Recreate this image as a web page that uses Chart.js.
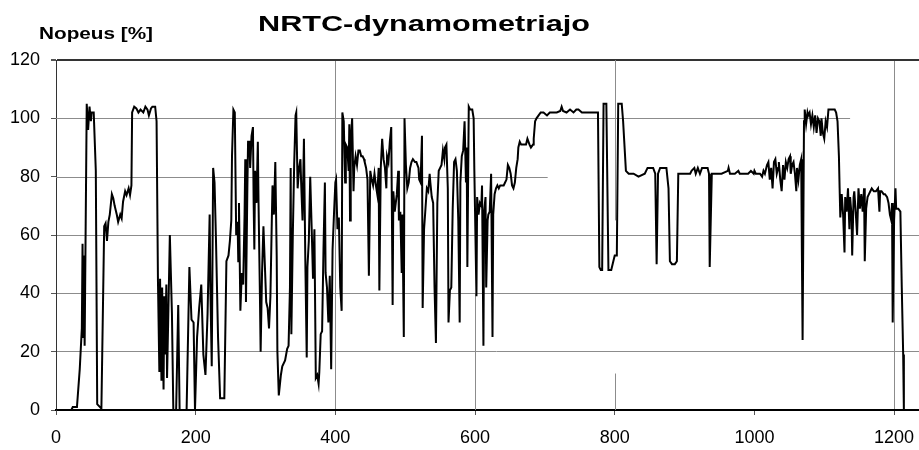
<!DOCTYPE html>
<html>
<head>
<meta charset="utf-8">
<script src="https://cdn.jsdelivr.net/npm/chart.js@4"></script>
<style>
  html, body { margin: 0; padding: 0; background: #fff; overflow: hidden; }
  canvas { display: block; }
</style>
</head>
<body>
<canvas id="nrtcChart" width="936" height="450"></canvas>
<script>
// NRTC cycle, speed [%]
const seconds = [0, 22, 24, 30, 34, 37, 38, 39, 40, 41, 44, 46, 48, 50, 51, 54, 57, 59, 63, 65,
  69, 71, 73, 75, 77, 80, 82, 84, 87, 89, 92, 94, 96, 99, 101, 104, 106, 108, 109, 112,
  115, 118, 121, 125, 128, 131, 133, 136, 138, 142, 144, 146, 148, 149, 151, 152, 154, 155, 156, 158,
  159, 161, 163, 166, 168, 172, 175, 177, 187, 191, 194, 197, 199, 202, 205, 208, 211, 214, 217, 220,
  221, 223, 225, 227, 229, 232, 235, 241, 244, 247, 249, 251, 252, 254, 256, 258, 260, 261, 262, 264,
  266, 268, 270, 271, 272, 274, 275, 277, 278, 280, 282, 283, 284, 285, 287, 289, 290, 292, 293, 295,
  297, 299, 301, 303, 305, 307, 309, 310, 312, 314, 316, 317, 319, 322, 324, 328, 331, 333, 335, 336,
  337, 339, 341, 343, 344, 346, 348, 350, 351, 353, 355, 357, 359, 360, 362, 364, 366, 368, 370, 372,
  374, 376, 377, 379, 381, 383, 385, 386, 388, 390, 392, 394, 396, 398, 400, 401, 403, 405, 407, 409,
  410, 412, 414, 415, 417, 419, 420, 421, 422, 424, 426, 427, 429, 431, 433, 435, 437, 439, 441, 442,
  444, 446, 448, 450, 452, 454, 456, 458, 460, 462, 463, 465, 467, 469, 471, 473, 474, 476, 478, 480,
  482, 483, 485, 488, 490, 491, 493, 495, 496, 498, 499, 501, 503, 505, 507, 509, 511, 514, 516, 519,
  520, 522, 524, 525, 527, 529, 531, 533, 535, 536, 538, 540, 542, 544, 546, 548, 550, 552, 554, 556,
  557, 559, 561, 562, 564, 566, 568, 570, 572, 574, 576, 578, 579, 581, 583, 585, 587, 588, 589, 591,
  593, 596, 598, 599, 600, 602, 603, 605, 607, 609, 610, 612, 613, 615, 616, 618, 619, 621, 623, 625,
  626, 628, 630, 632, 634, 636, 638, 641, 643, 645, 647, 649, 651, 653, 655, 657, 659, 661, 662, 664,
  666, 669, 673, 675, 678, 680, 683, 684, 686, 688, 691, 694, 698, 703, 707, 712, 717, 722, 724, 726,
  731, 736, 741, 745, 748, 753, 762, 769, 776, 778, 780, 782, 784, 788, 791, 795, 798, 800, 803, 805,
  810, 812, 816, 820, 827, 834, 843, 847, 855, 858, 860, 862, 865, 874, 877, 879, 882, 886, 889, 891,
  901, 908, 910, 914, 916, 919, 922, 925, 933, 935, 936, 939, 944, 953, 962, 963, 965, 972, 977, 979,
  991, 995, 999, 1000, 1002, 1008, 1011, 1013, 1015, 1018, 1020, 1022, 1024, 1026, 1028, 1030, 1032, 1034, 1035, 1037,
  1039, 1041, 1043, 1045, 1047, 1049, 1051, 1052, 1054, 1056, 1058, 1060, 1061, 1063, 1065, 1067, 1068, 1069, 1071, 1072,
  1074, 1076, 1077, 1079, 1081, 1083, 1085, 1087, 1089, 1091, 1093, 1095, 1096, 1098, 1100, 1102, 1104, 1106, 1109, 1112,
  1115, 1117, 1119, 1121, 1122, 1123, 1125, 1127, 1129, 1130, 1132, 1134, 1136, 1137, 1139, 1140, 1142, 1143, 1145, 1147,
  1149, 1151, 1153, 1155, 1157, 1158, 1160, 1162, 1164, 1166, 1168, 1171, 1174, 1177, 1179, 1180, 1182, 1185, 1187, 1190,
  1192, 1194, 1196, 1197, 1198, 1200, 1202, 1203, 1206, 1209, 1211, 1213, 1214, 1238];

const speed = [0, 0, 1, 1, 14, 28, 57, 25, 53, 22, 105, 96, 104, 99, 102, 102, 82, 2, 1, 0.5,
  63, 64, 58, 64.5, 67, 74, 72.6, 70, 67, 64.5, 67, 65.7, 71.4, 75, 73.7, 76, 73.7, 77, 102, 104,
  103.4, 102, 103, 102, 104, 103, 101, 103.4, 104, 104, 99, 44, 13, 45, 10, 42, 7, 39, 19, 43,
  11, 35, 60, 33, 0, 0, 36, 0, 0, 49, 31, 30, 0, 25, 35, 43, 19, 12, 33, 67,
  42, 15, 83, 78, 59, 25, 4, 4, 51, 53, 58, 65, 87, 103, 102, 60, 64.5, 51, 71, 34,
  47, 43, 67, 86, 37, 76, 92, 92, 83, 94, 97, 71, 55, 82, 71, 92, 71, 39, 20, 47,
  63, 50, 37, 35, 28, 39, 65, 77, 67, 85, 53, 20, 5, 12, 15, 17, 21, 22, 42, 83,
  26, 59, 84, 101, 102, 76, 83, 86, 78, 65, 93, 51, 18, 49, 58, 80, 63, 45, 62, 11,
  12, 9, 13, 26, 27, 55, 78, 47, 42, 30, 46, 14, 55, 67, 78, 79, 62, 66, 42, 34,
  102, 99, 78, 91, 90, 82, 98, 65, 92, 100, 75, 83, 87, 84, 89, 89, 87, 87, 86, 85,
  83, 79, 46, 82, 79, 77, 81, 77, 74, 83, 41, 83, 93, 86, 83, 76, 87, 85, 92, 97,
  36, 75, 68, 74, 82, 65, 68, 47, 67, 25, 100, 84, 76, 78, 83, 85, 86, 85, 85, 83,
  79, 78, 94, 35, 62, 69, 76, 75, 81, 78, 73, 71, 42, 23, 71, 82, 83, 84, 89, 86,
  90, 91, 76, 30, 41, 42, 69, 85, 86, 82, 65, 30, 78, 87, 89, 99, 78, 90, 49, 104,
  103, 103, 100, 82, 68, 39, 73, 67, 71, 70, 77, 22, 68, 73, 42, 65, 67, 68, 81, 25,
  67, 74, 76, 77, 76, 77, 77, 77, 78, 79, 84, 83, 81, 77, 76, 78, 83, 86, 90, 92,
  91, 91, 91, 93, 91, 90, 91, 93, 99, 100, 101, 102, 102, 101, 102, 102, 102, 102.5, 104, 102.5,
  102, 103, 102, 103, 103, 102, 102, 102, 102, 49, 48, 48, 105, 105, 48, 48, 51, 53, 53, 105,
  105, 99, 82, 81, 81, 80, 81, 83, 83, 81, 50, 81, 83, 83, 76, 51, 50, 50, 51, 81,
  81, 81, 82, 83, 81, 83, 81, 83, 83, 81, 49, 81, 81, 81, 82, 83, 81, 81, 82, 81,
  81, 82, 81, 82, 81, 81, 80, 82, 81, 84, 85, 79, 83, 76, 85, 86, 81, 83, 85, 79,
  75, 84, 79, 85, 83, 86, 87, 81, 84, 85, 81, 75, 83, 79, 84, 86, 53, 24, 99, 103,
  98, 102, 101, 102, 98, 101, 97, 101, 95, 100, 99, 94, 100, 95, 93, 99, 97, 103, 103, 103,
  103, 102, 99, 87, 76, 66, 74, 67, 54, 73, 68, 76, 62, 73, 67, 53, 73, 75, 68, 60,
  76, 69, 74, 68, 76, 51, 69, 73, 74, 75, 76, 75, 75, 76, 68, 75, 75, 74, 74, 73,
  71, 67, 65, 71, 30, 65, 76, 69, 69, 68, 42, 19, 0, 0];

const xTicks = [0, 200, 400, 600, 800, 1000, 1200];
const yTicks = [0, 20, 40, 60, 80, 100, 120];

const chartTitle = 'NRTC-dynamometriajo';
const yAxisTitle = 'Nopeus [%]';

// text in the source image is drawn wide, so stretch it to the measured width
function wideText(ctx, text, x, y, width) {
  const natural = ctx.measureText(text).width;
  ctx.save();
  ctx.translate(x, y);
  ctx.scale(width / natural, 1);
  ctx.fillText(text, 0, 0);
  ctx.restore();
}

// partial gridlines and the free-standing titles, as in the original picture
const extras = {
  id: 'extras',
  beforeDatasetsDraw(chart) {
    const { ctx, scales: { x, y } } = chart;
    const px = v => Math.round(x.getPixelForValue(v)) + 0.5;
    const py = v => Math.round(y.getPixelForValue(v)) + 0.5;
    ctx.save();
    ctx.strokeStyle = '#8c8c8c';
    ctx.lineWidth = 1;
    ctx.beginPath();
    ctx.moveTo(x.getPixelForValue(0), py(80));
    ctx.lineTo(x.getPixelForValue(704), py(80));
    ctx.moveTo(x.getPixelForValue(0), py(100));
    ctx.lineTo(x.getPixelForValue(1137), py(100));
    ctx.moveTo(px(600), y.getPixelForValue(0));
    ctx.lineTo(px(600), y.getPixelForValue(40));
    ctx.moveTo(px(800), y.getPixelForValue(65));
    ctx.lineTo(px(800), y.getPixelForValue(120));
    ctx.moveTo(px(800), y.getPixelForValue(0));
    ctx.lineTo(px(800), y.getPixelForValue(12.5));
    ctx.stroke();
    ctx.restore();
  },
  afterDraw(chart) {
    const ctx = chart.ctx;
    ctx.save();
    ctx.fillStyle = '#000';
    ctx.textBaseline = 'alphabetic';
    ctx.textAlign = 'left';
    ctx.font = 'bold 17px "Liberation Sans", Arial, sans-serif';
    wideText(ctx, yAxisTitle, 39, 39, 114);
    ctx.font = 'bold 22px "Liberation Sans", Arial, sans-serif';
    wideText(ctx, chartTitle, 258, 31, 332);
    ctx.restore();
  }
};

const nrtcChart = new Chart(document.getElementById('nrtcChart'), {
  type: 'line',
  data: {
    datasets: [{
      label: 'Nopeus',
      data: seconds.map((s, i) => ({ x: s, y: speed[i] })),
      borderColor: '#000',
      borderWidth: 2,
      pointRadius: 0,
      tension: 0,
      fill: false
    }]
  },
  options: {
    responsive: false,
    animation: false,
    layout: { padding: { top: 60, right: 0, left: 0, bottom: 0 } },
    plugins: {
      legend: { display: false },
      tooltip: { enabled: false }
    },
    scales: {
      x: {
        type: 'linear',
        min: 0,
        max: 1260,
        afterBuildTicks: s => { s.ticks = xTicks.map(v => ({ value: v })); },
        afterFit: s => { s.height = 40; },
        border: { color: '#000', width: 2 },
        grid: {
          color: c => (c.tick && (c.tick.value === 400 || c.tick.value === 1200)) ? '#8c8c8c' : 'rgba(0,0,0,0)',
          tickColor: '#555',
          tickLength: 5
        },
        ticks: {
          color: '#000',
          padding: 12,
          maxRotation: 0,
          callback: v => String(v),
          font: { family: '"Liberation Sans", Arial, sans-serif', size: 18 }
        }
      },
      y: {
        min: 0,
        max: 120,
        afterBuildTicks: s => { s.ticks = yTicks.map(v => ({ value: v })); },
        afterFit: s => { s.width = 56; },
        border: { color: '#333', width: 1 },
        grid: {
          color: c => {
            const v = c.tick ? c.tick.value : null;
            if (v === 120) return '#333';
            if (v === 20 || v === 40 || v === 60) return '#8c8c8c';
            return 'rgba(0,0,0,0)';
          },
          lineWidth: c => (c.tick && c.tick.value === 120) ? 2 : 1,
          tickColor: '#555',
          tickLength: 5
        },
        ticks: {
          color: '#000',
          padding: 11,
          font: { family: '"Liberation Sans", Arial, sans-serif', size: 18 }
        }
      }
    }
  },
  plugins: [extras]
});
</script>
</body>
</html>
